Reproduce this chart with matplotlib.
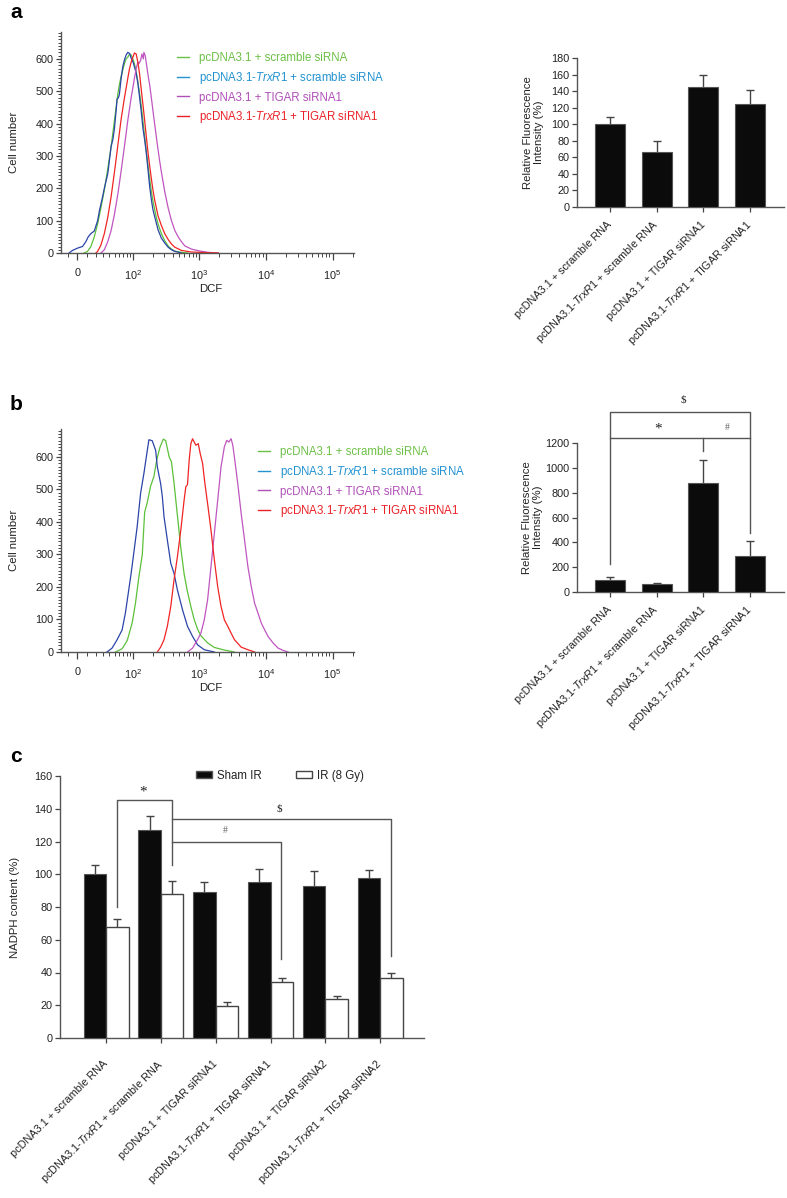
import numpy as np
import matplotlib.pyplot as plt
from matplotlib.lines import Line2D
from matplotlib.patches import Patch
from matplotlib.ticker import MultipleLocator, FixedLocator

plt.rcParams['font.family'] = 'Liberation Sans'
plt.rcParams['mathtext.fontset'] = 'custom'
plt.rcParams['mathtext.rm'] = 'Liberation Sans'
plt.rcParams['mathtext.it'] = 'Liberation Sans:italic'
plt.rcParams['axes.edgecolor'] = '#555555'
plt.rcParams['text.color'] = '#222222'
plt.rcParams['axes.labelcolor'] = '#222222'
plt.rcParams['xtick.color'] = '#444444'
plt.rcParams['ytick.color'] = '#444444'
plt.rcParams['xtick.labelcolor'] = '#222222'
plt.rcParams['ytick.labelcolor'] = '#222222'

#%% data
# panel a : DCF histograms
a_green_x = [7, 10.6, 14.4, 18.4, 22.6, 27.1, 32, 37.4, 43.3, 49.6, 53, 56.5, 60.2, 64, 68.4,
             73, 77.7, 82.6, 88, 93.4, 99.2, 105, 112, 118.6, 126, 134, 142, 151, 160, 170,
             180, 191, 202, 214, 227, 241, 271, 304, 342, 384, 431, 543, 680]
a_green_y = [0, 5, 20, 50, 90, 140, 195, 260, 330, 410, 450, 490, 520, 545, 565,
             585, 600, 605, 615, 612, 600, 585, 560, 530, 495, 455, 410, 360, 315, 270,
             230, 190, 160, 135, 110, 90, 60, 38, 22, 12, 6, 2, 0]
a_blue_x = [-8.8, -5.2, 0, 5.2, 8.8, 11.4, 14.4, 18.4, 22.6, 24.9, 29.5, 32, 37.4, 43.3, 46.4,
            49.6, 53, 55, 58, 60.2, 64, 68.4, 73, 77.7, 82.6, 88, 93.4, 99.2, 105, 112,
            118.6, 126, 134, 142, 151, 160, 170, 180, 191, 202, 214, 227, 241, 271, 304,
            342, 384, 431, 543]
a_blue_y = [0, 8, 15, 20, 35, 50, 60, 68, 100, 130, 175, 200, 245, 330, 350,
            385, 440, 475, 480, 490, 535, 575, 597, 612, 620, 617, 602, 592, 576, 555,
            525, 483, 437, 386, 350, 309, 257, 206, 165, 134, 113, 93, 72, 46, 31,
            18, 10, 5, 0]
a_mag_x = [27.1, 32, 37.4, 43.3, 49.6, 56.5, 64, 73, 82.6, 93.4, 99.2, 105, 112, 118.6, 123,
           131, 137, 144, 147, 154, 162, 170, 180, 191, 202, 214, 227, 241, 255, 271,
           304, 342, 384, 431, 484, 543, 610, 768, 1026, 1370, 1935]
a_mag_y = [0, 10, 35, 70, 120, 180, 250, 330, 410, 480, 510, 540, 570, 590, 585,
           595, 615, 600, 620, 610, 580, 550, 520, 480, 440, 400, 360, 320, 285, 250,
           190, 140, 100, 70, 50, 35, 22, 12, 6, 2, 0]
a_red_x = [20.4, 22.6, 27.1, 32, 37.4, 43.3, 49.6, 56.5, 64, 73, 77.7, 82.6, 88, 93.4, 99.2,
           105, 112, 118.6, 126, 134, 142, 151, 160, 170, 180, 191, 202, 214, 227, 241,
           271, 304, 342, 384, 431, 543, 768, 1370, 1935]
a_red_y = [0, 5, 25, 60, 110, 175, 250, 330, 410, 480, 510, 540, 570, 590, 605,
           618, 615, 590, 555, 505, 460, 410, 360, 310, 270, 230, 195, 165, 140, 115,
           85, 60, 42, 28, 18, 8, 3, 1, 0]

# panel b : DCF histograms
b_green_x = [51.7, 66.9, 80.8, 97, 109, 123, 139, 151, 165.6, 186, 209, 230, 258, 290, 315,
             355, 384, 420, 472, 531, 595, 669, 751, 843, 948, 1063, 1339, 1692, 2390, 3380]
b_green_y = [0, 10, 35, 90, 150, 230, 300, 430, 460, 510, 540, 590, 630, 655, 650,
             600, 585, 520, 420, 320, 240, 185, 140, 100, 70, 50, 28, 14, 6, 0]
b_blue_x = [36.1, 45, 55.2, 66.9, 75.6, 85.5, 93.3, 102.6, 115.8, 130.8, 147, 165.6, 175.5, 197, 222,
            235, 264, 280, 297, 333, 375, 420, 472, 563, 669, 797, 948, 1194, 1692]
b_blue_y = [0, 12, 38, 68, 120, 191, 242, 304, 385, 488, 549, 620, 653, 650, 620,
            570, 518, 478, 416, 345, 273, 242, 191, 130, 79, 48, 22, 7, 0]
b_mag_x = [669, 797, 948, 1063, 1194, 1339, 1506, 1692, 1899, 2011, 2131, 2390, 2596, 2782, 3018,
           3198, 3380, 3797, 4270, 4795, 5385, 6050, 6790, 7620, 8560, 9610, 10790, 12830,
           15260, 18150, 21590]
b_mag_y = [0, 12, 38, 58, 99, 160, 263, 365, 467, 518, 570, 631, 651, 646, 656,
           636, 600, 518, 426, 345, 263, 201, 150, 120, 89, 68, 48, 28, 12, 5, 0]
b_red_x = [235, 264, 297, 333, 375, 420, 472, 531, 595, 631, 669, 709, 751, 797, 843,
           894, 970, 1039, 1127, 1221, 1339, 1506, 1692, 1899, 2131, 2390, 2688, 3018,
           3380, 4270, 5385, 6790]
b_red_y = [0, 15, 38, 79, 140, 222, 293, 375, 467, 508, 515, 590, 641, 656, 646,
           636, 641, 610, 580, 518, 457, 375, 283, 201, 140, 99, 79, 58, 38, 15, 7, 0]

flow_labels = ['pcDNA3.1 + scramble siRNA',
               r'pcDNA3.1-$\mathit{TrxR1}$ + scramble siRNA',
               'pcDNA3.1 + TIGAR siRNA1',
               r'pcDNA3.1-$\mathit{TrxR1}$ + TIGAR siRNA1']
line_colors = ['#5cc03a', '#2b44a8', '#c055c0', '#f02424']
text_colors = ['#6cc046', '#2292d0', '#b04fb8', '#ea2228']

# bar charts a / b
bar_labels = ['pcDNA3.1 + scramble RNA',
              r'pcDNA3.1-$\mathit{TrxR1}$ + scramble RNA',
              'pcDNA3.1 + TIGAR siRNA1',
              r'pcDNA3.1-$\mathit{TrxR1}$ + TIGAR siRNA1']
a_rfi = [100, 67, 145, 124]
a_rfi_err = [9, 13, 14, 17]
b_rfi = [100, 67, 877, 287]
b_rfi_err = [18, 6, 190, 120]

# panel c : NADPH
c_labels = ['pcDNA3.1 + scramble RNA',
            r'pcDNA3.1-$\mathit{TrxR1}$ + scramble RNA',
            'pcDNA3.1 + TIGAR siRNA1',
            r'pcDNA3.1-$\mathit{TrxR1}$ + TIGAR siRNA1',
            'pcDNA3.1 + TIGAR siRNA2',
            r'pcDNA3.1-$\mathit{TrxR1}$ + TIGAR siRNA2']
sham = [100, 127, 89, 95.5, 93, 97.5]
sham_err = [5.5, 8.5, 6.3, 8, 9, 5.3]
ir8 = [68, 88, 19.5, 34, 23.6, 36.4]
ir8_err = [4.4, 7.7, 2.2, 2.8, 2.2, 3.1]

#%% figure
W, H = 787, 1198
fig = plt.figure(figsize=(W / 100, H / 100), dpi=100)


def px_axes(l, t, r, b):
    return fig.add_axes([l / W, 1 - b / H, (r - l) / W, (b - t) / H])


def style(ax):
    for s in ['top', 'right']:
        ax.spines[s].set_visible(False)
    for s in ['left', 'bottom']:
        ax.spines[s].set_linewidth(1.0)
    ax.tick_params(which='major', direction='out', length=3.5, width=0.9, labelsize=7.8, pad=2)
    ax.tick_params(which='minor', direction='out', length=2, width=0.7)


def flow_panel(ax, curves, ymax, leg_top):
    for x, y, c in curves:
        ax.plot(x, y, color=c, lw=0.9)
    ax.set_xscale('function', functions=(lambda v: np.arcsinh(v / 30.0),
                                          lambda u: 30.0 * np.sinh(u)))
    ax.set_xlim(-18, 2.1e5)
    ax.set_ylim(0, ymax)
    ax.set_xticks([0, 1e2, 1e3, 1e4, 1e5])
    ax.set_xticklabels(['0', '10$^2$', '10$^3$', '10$^4$', '10$^5$'])
    minors = [-10] + list(range(10, 100, 10)) + \
             [m * 10 ** k for k in (2, 3, 4) for m in range(2, 10)] + [2e5]
    ax.xaxis.set_minor_locator(FixedLocator(minors))
    ax.yaxis.set_major_locator(MultipleLocator(100))
    ax.yaxis.set_minor_locator(MultipleLocator(10))
    style(ax)
    ax.tick_params(axis='x', which='major', length=5, pad=6)
    ax.tick_params(axis='x', which='minor', length=3)
    ax.set_ylabel('Cell number', fontsize=8.2)
    ax.yaxis.set_label_coords(-0.145, 0.5)
    ax.set_xlabel('DCF', fontsize=8.2)
    ax.xaxis.set_label_coords(0.51, -0.14)
    handles = [Line2D([], [], color=c, lw=1.0) for c in text_colors]
    ax.legend(handles, flow_labels, loc='upper left', bbox_to_anchor=leg_top,
              bbox_transform=fig.transFigure, frameon=False, fontsize=8.3,
              handlelength=1.0, handletextpad=0.9, labelspacing=0.5,
              borderpad=0, borderaxespad=0, labelcolor='linecolor')


def bar_panel(ax, vals, errs, ymax, ystep):
    pos = np.arange(len(vals))
    ax.bar(pos, vals, width=0.64, color='#0b0b0b', edgecolor='#555555', lw=0.8, zorder=3)
    ax.errorbar(pos, vals, yerr=errs, fmt='none', ecolor='#444444', elinewidth=1.0,
                capsize=3.2, capthick=1.0, zorder=2)
    ax.set_xlim(-0.7, 3.72)
    ax.set_ylim(0, ymax)
    ax.yaxis.set_major_locator(MultipleLocator(ystep))
    ax.set_xticks(pos)
    ax.set_xticklabels(bar_labels, rotation=45, ha='right', va='center',
                       rotation_mode='anchor', fontsize=8.5)
    style(ax)
    ax.tick_params(axis='x', pad=8)
    ax.set_ylabel('Relative Fluorescence\nIntensity (%)', fontsize=8.2, linespacing=1.05)
    return pos


# ---- panel a
ax = px_axes(61, 32, 354, 253)
flow_panel(ax, [(a_green_x, a_green_y, line_colors[0]), (a_blue_x, a_blue_y, line_colors[1]),
                (a_mag_x, a_mag_y, line_colors[2]), (a_red_x, a_red_y, line_colors[3])],
           683, (177 / W, 1 - 52 / H))

ax = px_axes(577, 58, 784, 207)
bar_panel(ax, a_rfi, a_rfi_err, 180, 20)
ax.yaxis.set_label_coords(-0.16, 0.5)

# ---- panel b
ax = px_axes(61, 429, 354, 652)
flow_panel(ax, [(b_green_x, b_green_y, line_colors[0]), (b_blue_x, b_blue_y, line_colors[1]),
                (b_mag_x, b_mag_y, line_colors[2]), (b_red_x, b_red_y, line_colors[3])],
           686, (258 / W, 1 - 446 / H))

ax = px_axes(577, 443, 784, 592)
bar_panel(ax, b_rfi, b_rfi_err, 1200, 200)
ax.yaxis.set_label_coords(-0.165, 0.5)
br = dict(color='#555555', lw=1.0, clip_on=False)
ax.plot([0, 0, 3, 3], [225, 1450, 1450, 475], **br)
ax.plot([0, 3], [1243, 1243], **br)
ax.plot([2, 2], [1243, 1135], **br)
ax.text(1.57, 1546, '$', family='Liberation Serif', fontsize=8, ha='center', va='center')
ax.text(1.04, 1313, '*', family='Liberation Serif', fontsize=11, ha='center', va='center')
ax.text(2.51, 1321, '#', family='Liberation Serif', fontsize=7, color='#666666',
        ha='center', va='center')

# ---- panel c
ax = px_axes(60, 776, 424, 1038)
pos = np.arange(len(sham))
w = 0.41
ax.bar(pos - w / 2, sham, width=w, color='#0b0b0b', edgecolor='#555555', lw=0.8,
       zorder=3, label='Sham IR')
ax.bar(pos + w / 2, ir8, width=w, color='white', edgecolor='#444444', lw=1.0,
       zorder=3, label='IR (8 Gy)')
ax.errorbar(pos - w / 2, sham, yerr=sham_err, fmt='none', ecolor='#444444',
            elinewidth=1.0, capsize=3.2, capthick=1.0, zorder=2)
ax.errorbar(pos + w / 2, ir8, yerr=ir8_err, fmt='none', ecolor='#444444',
            elinewidth=1.0, capsize=3.2, capthick=1.0, zorder=2)
ax.set_xlim(-0.84, 5.8)
ax.set_ylim(0, 160)
ax.yaxis.set_major_locator(MultipleLocator(20))
ax.set_xticks(pos)
ax.set_xticklabels(c_labels, rotation=45, ha='right', va='center',
                   rotation_mode='anchor', fontsize=9)
style(ax)
ax.tick_params(axis='x', pad=14)
ax.set_ylabel('NADPH content (%)', fontsize=8.2)
ax.yaxis.set_label_coords(-0.11, 0.5)
ax.legend([Patch(facecolor='#0b0b0b', edgecolor='#555555'),
           Patch(facecolor='white', edgecolor='#444444')],
          ['Sham IR', 'IR (8 Gy)'], ncol=2, loc='upper left',
          bbox_to_anchor=(196 / W, 1 - 770 / H), bbox_transform=fig.transFigure,
          frameon=False, fontsize=8.3, handlelength=1.4, handleheight=0.55,
          handletextpad=0.45, columnspacing=2.9, borderpad=0, borderaxespad=0)
ax.plot([0.2, 0.2, 1.2, 1.2], [80, 145.6, 145.6, 105.6], **br)
ax.plot([1.2, 3.2, 3.2], [120, 120, 48], **br)
ax.plot([1.2, 5.2, 5.2], [134, 134, 50], **br)
ax.text(0.68, 150.5, '*', family='Liberation Serif', fontsize=11, ha='center', va='center')
ax.text(3.16, 139.8, '$', family='Liberation Serif', fontsize=8, ha='center', va='center')
ax.text(2.17, 126.8, '#', family='Liberation Serif', fontsize=7, color='#666666',
        ha='center', va='center')

# panel letters
for letter, y in [('a', 12), ('b', 405), ('c', 757)]:
    fig.text(10 / W, 1 - y / H, letter, fontsize=15, fontweight='bold',
             color='black', ha='left', va='center')

fig.savefig('out.png', dpi=100)
